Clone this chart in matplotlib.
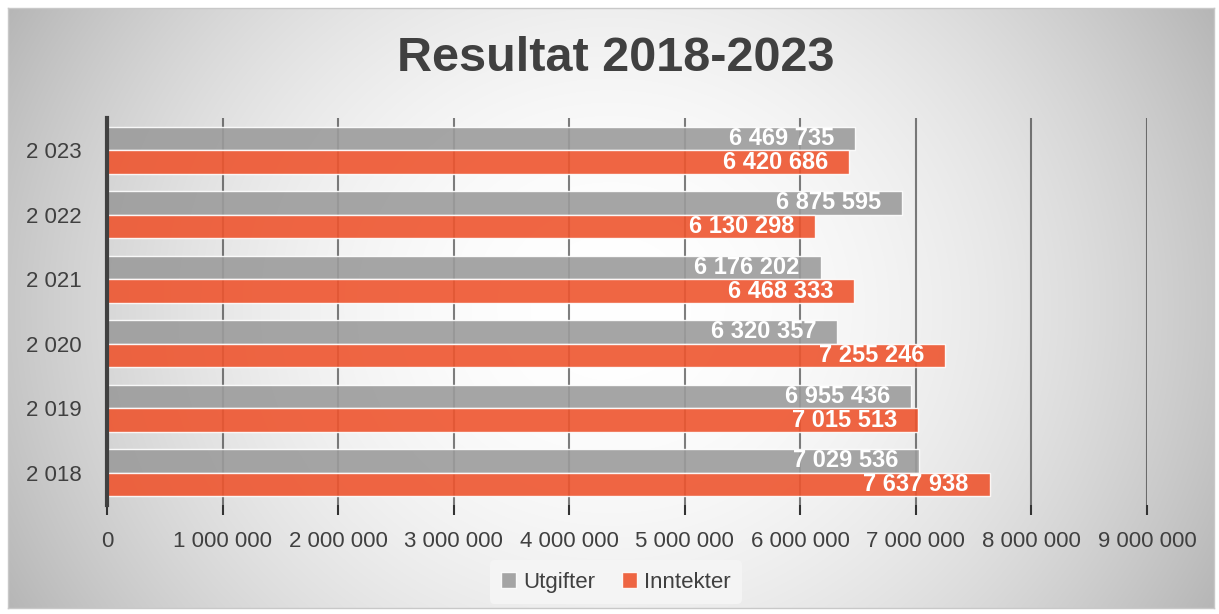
import matplotlib
matplotlib.use('Agg')
import matplotlib.pyplot as plt
import numpy as np

years = [2018, 2019, 2020, 2021, 2022, 2023]
utgifter = [7029536, 6955436, 6320357, 6176202, 6875595, 6469735]
inntekter = [7637938, 7015513, 7255246, 6468333, 6130298, 6420686]
xticks = [0, 1000000, 2000000, 3000000, 4000000, 5000000, 6000000, 7000000, 8000000, 9000000]

GREY = '#9c9c9c'
RED = '#ee552f'
TXT = '#404040'
NARROW = ['Liberation Sans Narrow', 'Liberation Sans', 'DejaVu Sans']
plt.rcParams['font.family'] = ['Liberation Sans', 'DejaVu Sans']


def spaced(v):
    return f'{v:,}'.replace(',', ' ')


fig = plt.figure(figsize=(12.19, 6.14), dpi=100)
fig.patch.set_facecolor('white')

# radial gradient background inside the chart frame
bg = fig.add_axes([8 / 1219, 6 / 614, 1206 / 1219, 600 / 614])
gx, gy = np.meshgrid(np.linspace(-1, 1, 600), np.linspace(-1, 1, 300))
r2 = gx ** 2 + (gy * 0.55) ** 2
shade = np.clip(1 - 0.22 * r2, 0, 1)
bg.imshow(np.dstack([shade] * 3), aspect='auto', extent=[0, 1, 0, 1], interpolation='bicubic')
bg.set_xticks([])
bg.set_yticks([])
for s in bg.spines.values():
    s.set_color('#c8c8c8')
    s.set_linewidth(1)
bg.set_zorder(0)

ax = fig.add_axes([107 / 1219, 109 / 614, 1040 / 1219, 387 / 614])
ax.set_facecolor('none')
ax.set_zorder(1)

y = np.arange(len(years))
h = 0.365
ax.barh(y + h / 2, utgifter, height=h, color=GREY, alpha=0.9, edgecolor=(1, 1, 1, 0.7), linewidth=1,
        label='Utgifter', zorder=3)
ax.barh(y - h / 2, inntekter, height=h, color=RED, alpha=0.9, edgecolor=(1, 1, 1, 0.7), linewidth=1,
        label='Inntekter', zorder=3)

for yi, v in zip(y, utgifter):
    ax.annotate(spaced(v), (v, yi + h / 2), xytext=(-15, 0), textcoords='offset points',
                ha='right', va='center', color='white', fontsize=17, fontweight='bold', family=NARROW, zorder=4)
for yi, v in zip(y, inntekter):
    ax.annotate(spaced(v), (v, yi - h / 2), xytext=(-15, 0), textcoords='offset points',
                ha='right', va='center', color='white', fontsize=17, fontweight='bold', family=NARROW, zorder=4)

ax.set_xlim(0, 9000000)
ax.set_ylim(-0.5, len(years) - 0.5)
ax.set_xticks(xticks)
ax.set_xticklabels([spaced(v) for v in xticks])
ax.set_yticks(y)
ax.set_yticklabels([spaced(v) for v in years])
ax.grid(axis='x', color='#2a2a2a', linewidth=1.5, alpha=0.6, zorder=2)
ax.tick_params(axis='x', length=7, width=1.5, color='#333333', colors=TXT, labelsize=16, pad=12)
ax.tick_params(axis='y', length=0, colors=TXT, labelsize=16, pad=18)
for s in ['top', 'right', 'bottom']:
    ax.spines[s].set_visible(False)
ax.spines['left'].set_color('#404040')
ax.spines['left'].set_linewidth(3)
ax.spines['left'].set_zorder(5)

fig.text(0.505, 0.905, 'Resultat 2018-2023', ha='center', va='center', fontsize=35,
         fontweight='bold', color=TXT, family=NARROW)

handles, labels = ax.get_legend_handles_labels()
leg = fig.legend(handles, labels, loc='center', bbox_to_anchor=(0.505, 0.052), ncol=2,
                 frameon=True, fontsize=16, handlelength=0.7, handleheight=0.7,
                 handletextpad=0.3, columnspacing=1.2, borderpad=0.5)
leg.get_frame().set_facecolor('#f4f4f4')
leg.get_frame().set_edgecolor('none')
leg.get_frame().set_alpha(1)
for t in leg.get_texts():
    t.set_color(TXT)

fig.savefig('out.png', dpi=100)
